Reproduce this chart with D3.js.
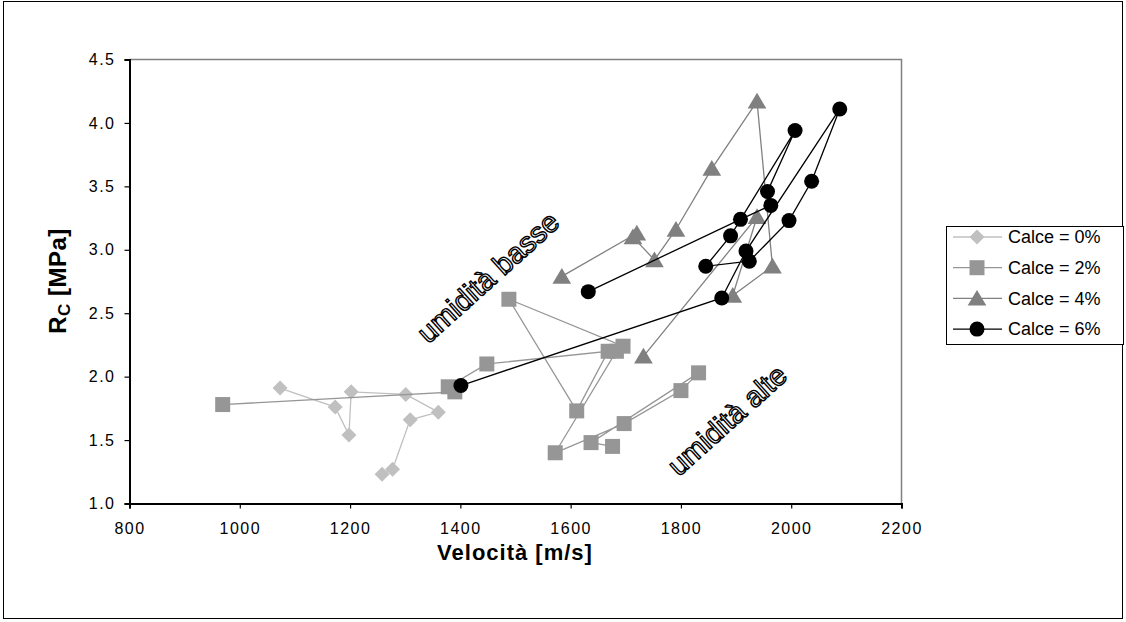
<!DOCTYPE html>
<html>
<head>
<meta charset="utf-8">
<script src="https://cdn.jsdelivr.net/npm/d3@7"></script>
<style>
  body { margin: 0; background: #fff; }
  text { font-family: "Liberation Sans", Arial, sans-serif; }
</style>
</head>
<body>
<div class="chart"></div>
<script>
// series data: velocità [m/s] and Rc [MPa], in plotting order
var calce0x = [1073, 1173, 1198, 1202, 1301, 1360, 1309, 1277, 1258];
var calce0y = [1.91, 1.76, 1.54, 1.88, 1.86, 1.72, 1.66, 1.27, 1.23];

var calce2x = [969, 1390, 1378, 1448, 1668, 1611, 1488, 1695, 1683, 1572, 1697, 1800, 1832, 1637, 1676];
var calce2y = [1.78, 1.88, 1.92, 2.10, 2.20, 1.73, 2.61, 2.24, 2.20, 1.40, 1.63, 1.89, 2.03, 1.48, 1.45];

var calce4x = [1584, 1720, 1713, 1752, 1791, 1856, 1938, 1966, 1894, 1938, 1732];
var calce4y = [2.79, 3.13, 3.10, 2.92, 3.16, 3.64, 4.17, 2.87, 2.64, 3.26, 2.16];

var calce6x = [1401, 1874, 1918, 2088, 2037, 1996, 1924, 1845, 1890, 2007, 1957, 1963, 1908, 1632];
var calce6y = [1.93, 2.62, 2.99, 4.11, 3.54, 3.23, 2.91, 2.87, 3.11, 3.94, 3.46, 3.35, 3.24, 2.67];

var seriesNames = ["Calce = 0%", "Calce = 2%", "Calce = 4%", "Calce = 6%"];
var xTicks = [800, 1000, 1200, 1400, 1600, 1800, 2000, 2200];
var yTicks = [1.0, 1.5, 2.0, 2.5, 3.0, 3.5, 4.0, 4.5];

var width = 1126,
    height = 622;

var svg = d3.select(".chart").append("svg")
    .attr("width", width)
    .attr("height", height);

svg.append("rect")
    .attr("x", 3.5).attr("y", 1.5)
    .attr("width", 1119).attr("height", 617)
    .attr("fill", "#fff")
    .attr("stroke", "#000");

var x = d3.scaleLinear().domain([800, 2200]).range([129.5, 901.5]);
var y = d3.scaleLinear().domain([1.0, 4.5]).range([503.5, 59.5]);

// plot frame (top and right grey)
svg.append("path")
    .attr("d", "M" + x(800) + "," + y(4.5) + "H" + x(2200) + "V" + y(1.0))
    .attr("fill", "none")
    .attr("stroke", "#808080")
    .attr("stroke-width", 1.5);

var xAxis = svg.append("g")
    .attr("transform", "translate(0," + y(1.0) + ")")
    .call(d3.axisBottom(x).tickValues(xTicks).tickSize(5).tickPadding(14).tickFormat(d3.format("d")));
var yAxis = svg.append("g")
    .attr("transform", "translate(" + x(800) + ",0)")
    .call(d3.axisLeft(y).tickValues(yTicks).tickSize(5).tickPadding(9).tickFormat(d3.format(".1f")));

[xAxis, yAxis].forEach(function (g) {
    g.select(".domain").attr("stroke", "#000").attr("stroke-width", 2);
    g.selectAll(".tick line").attr("stroke", "#000").attr("stroke-width", 1.2);
    g.selectAll(".tick text")
        .attr("fill", "#000")
        .style("font-size", "16px")
        .style("letter-spacing", "1.5px")
        .style("font-family", "'Liberation Sans', Arial, sans-serif");
});

// axis titles
svg.append("text")
    .attr("x", 515).attr("y", 560)
    .attr("text-anchor", "middle")
    .style("font-size", "22px")
    .style("letter-spacing", "1px")
    .style("font-weight", "bold")
    .text("Velocità [m/s]");

var yt = svg.append("text")
    .attr("transform", "translate(66,281) rotate(-90)")
    .attr("text-anchor", "middle")
    .style("font-size", "24px")
    .style("letter-spacing", "0.5px")
    .style("font-weight", "bold");
yt.append("tspan").text("R");
yt.append("tspan").attr("dy", 4).style("font-size", "17px").text("C");
yt.append("tspan").attr("dy", -4).text(" [MPa]");

// marker shapes
function diamond(s) { return "M0," + (-s) + "L" + s + ",0L0," + s + "L" + (-s) + ",0Z"; }
function square(s) { return "M" + (-s) + "," + (-s) + "H" + s + "V" + s + "H" + (-s) + "Z"; }
function triangle(s) { return "M0," + (-s) + "L" + (s * 1.1) + "," + (s * 0.85) + "L" + (-s * 1.1) + "," + (s * 0.85) + "Z"; }
function circle(s) { return d3.arc()({innerRadius: 0, outerRadius: s, startAngle: 0, endAngle: 2 * Math.PI}); }

var series = [
    {xs: calce0x, ys: calce0y, color: "#c0c0c0", shape: diamond, size: 7.5},
    {xs: calce2x, ys: calce2y, color: "#969696", shape: square, size: 7.5},
    {xs: calce4x, ys: calce4y, color: "#808080", shape: triangle, size: 8.5},
    {xs: calce6x, ys: calce6y, color: "#000000", shape: circle, size: 7.5}
];

var line = d3.line()
    .x(function (d) { return x(d[0]); })
    .y(function (d) { return y(d[1]); });

series.forEach(function (s) {
    var pts = d3.zip(s.xs, s.ys);
    var g = svg.append("g");
    g.append("path")
        .attr("d", line(pts))
        .attr("fill", "none")
        .attr("stroke", s.color)
        .attr("stroke-width", 1.3);
    g.selectAll("path.pt")
        .data(pts)
        .enter().append("path")
        .attr("class", "pt")
        .attr("transform", function (d) { return "translate(" + x(d[0]) + "," + y(d[1]) + ")"; })
        .attr("d", s.shape(s.size))
        .attr("fill", s.color);
});

// annotations
function outlined(txt, cx, cy, ang) {
    svg.append("text")
        .attr("transform", "translate(" + cx + "," + cy + ") rotate(" + ang + ")")
        .attr("text-anchor", "middle")
        .attr("dy", "0.35em")
        .style("font-size", "29px")
        .attr("fill", "#fff")
        .attr("stroke", "#000")
        .attr("stroke-width", 1.4)
        .text(txt);
}
outlined("umidità basse", 488, 277, -42);
outlined("umidità alte", 727, 420, -42);

// legend
var lg = svg.append("g");
lg.append("rect")
    .attr("x", 946.5).attr("y", 226.5)
    .attr("width", 177).attr("height", 118)
    .attr("fill", "#fff")
    .attr("stroke", "#000");
series.forEach(function (s, i) {
    var ly = 237 + i * 30.7;
    lg.append("line")
        .attr("x1", 953).attr("x2", 1002)
        .attr("y1", ly).attr("y2", ly)
        .attr("stroke", s.color)
        .attr("stroke-width", 1.3);
    lg.append("path")
        .attr("transform", "translate(977," + ly + ")")
        .attr("d", s.shape(s.size))
        .attr("fill", s.color);
    lg.append("text")
        .attr("x", 1008).attr("y", ly)
        .attr("dy", "0.35em")
        .style("font-size", "18px")
        .text(seriesNames[i]);
});
</script>
</body>
</html>
